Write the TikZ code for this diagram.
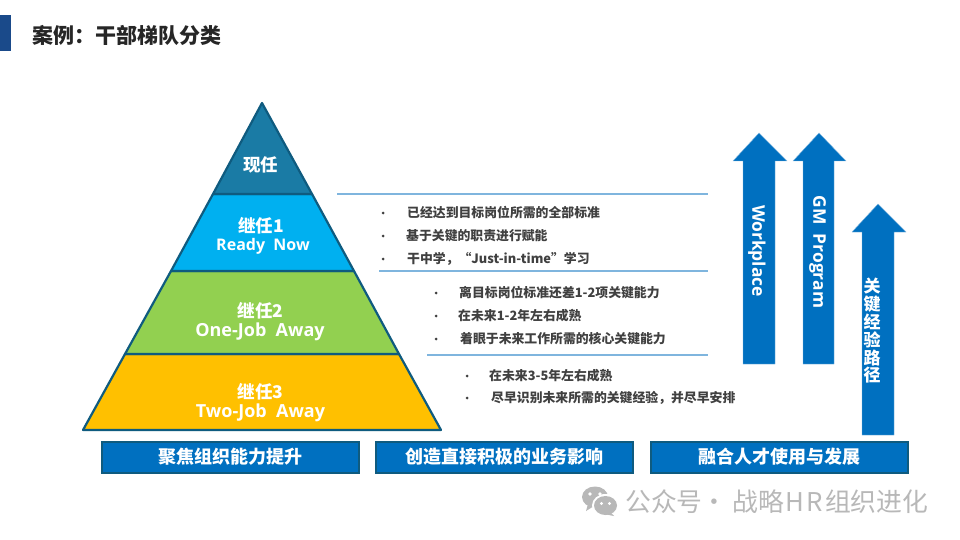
\documentclass[tikz,border=0pt]{standalone}
\usepackage{fontspec}
\setmainfont{Noto Sans CJK SC}
\newfontfamily\latinf{Open Sans}
\usetikzlibrary{positioning}
\definecolor{edgec}{HTML}{0F5B7F}
\definecolor{topc}{HTML}{1A7BA5}
\definecolor{lvla}{HTML}{00B0F0}
\definecolor{lvlb}{HTML}{92D050}
\definecolor{lvlc}{HTML}{FFC000}
\definecolor{barc}{HTML}{0070C0}
\definecolor{rulec}{HTML}{7FB5DE}
\definecolor{bodyc}{HTML}{404040}
\definecolor{markc}{HTML}{B8B8B8}
\definecolor{tabc}{HTML}{1A4A8A}
\tikzset{
  tier/.style={draw=edgec,line width=2.2pt,line join=round},
  tiertext/.style={text=white,font=\bfseries\fontsize{17.5}{19}\selectfont,align=center,inner sep=0pt},
  tierlatin/.style={text=white,inner sep=0pt,font=\latinf\bfseries\fontsize{#1}{20}\selectfont},
  barbox/.style={fill=barc,draw=edgec,line width=2pt,minimum height=31pt,text=white,
     font=\bfseries\fontsize{18}{20}\selectfont,inner sep=0pt},
  uparrow/.style={fill=barc,draw=rulec,line width=.4pt,line join=round},
  rulel/.style={draw=rulec,line width=1.4pt},
  bodytext/.style={text=bodyc,anchor=west,inner sep=0pt,font=\bfseries\fontsize{12.85}{14}\selectfont},
  dotm/.style={circle,fill=bodyc,inner sep=0pt,minimum size=3pt},
  armtext/.style={text=white,inner sep=0pt,font=\latinf\bfseries\fontsize{17.4}{19}\selectfont},
}
\begin{document}
\begin{tikzpicture}[x=1pt,y=-1pt]
\useasboundingbox (0,0) rectangle (960,540);
\fill[white] (0,0) rectangle (960,540);
% header
\fill[tabc] (0,15) rectangle (11,51);
\node[anchor=west,inner sep=0pt,text=black!85,font=\bfseries\fontsize{21}{23}\selectfont] (title) at (32,35) {案例：干部梯队分类};
% pyramid
\path[tier,fill=lvlc] (125,354) -- (399,354) -- (441,430) -- (83,430) -- cycle;
\path[tier,fill=lvlb] (171,271) -- (354,271) -- (399,354) -- (125,354) -- cycle;
\path[tier,fill=lvla] (213,194) -- (312,194) -- (354,271) -- (171,271) -- cycle;
\path[tier,fill=topc] (262,103) -- (312,194) -- (213,194) -- cycle;
\node[tiertext] (t0) at (260.5,165) {现任};
\node[tiertext] (t1) at (261,225.5) {继任1};
\node[tierlatin=16] (t1b) at (263,246) {Ready\ \ Now};
\node[tiertext] (t2) at (260.5,310.5) {继任2};
\node[tierlatin=18] (t2b) at (260,331.5) {One-Job\ \ Away};
\node[tiertext] (t3) at (260.5,391.5) {继任3};
\node[tierlatin=18] (t3b) at (260.5,412.5) {Two-Job\ \ Away};
% rules
\coordinate (r1a) at (337,194); \coordinate (r1b) at (708,194);
\coordinate (r2a) at (379,271); \coordinate (r2b) at (708,271);
\coordinate (r3a) at (427,355); \coordinate (r3b) at (708,355);
\draw[rulel] (r1a) -- (r1b);
\draw[rulel] (r2a) -- (r2b);
\draw[rulel] (r3a) -- (r3b);
% bullets
\foreach \x/\y/\n in {383/213/a,383/236/b,383/259/c,436/293/d,436/316/e,436/339/f,467/376/g,467/398/h}
  \node[dotm] (dot\n) at (\x,\y) {};
\node[bodytext] (a1) at (407,213) {已经达到目标岗位所需的全部标准};
\node[bodytext] (a2) at (406,236) {基于关键的职责进行赋能};
\node[bodytext] (a3) at (407,259) {干中学，“Just-in-time”学习};
\node[bodytext] (b1) at (459,293) {离目标岗位标准还差1-2项关键能力};
\node[bodytext] (b2) at (458,316) {在未来1-2年左右成熟};
\node[bodytext] (b3) at (460,339) {着眼于未来工作所需的核心关键能力};
\node[bodytext] (c1) at (489,376) {在未来3-5年左右成熟};
\node[bodytext] (c2) at (491,398) {尽早识别未来所需的关键经验，并尽早安排};
% bottom bars
\node[barbox,minimum width=257pt] (bar1) at (230.5,457) {聚焦组织能力提升};
\node[barbox,minimum width=257pt] (bar2) at (504.5,457) {创造直接积极的业务影响};
\node[barbox,minimum width=257pt] (bar3) at (779.5,457) {融合人才使用与发展};
% arrows
\path[uparrow] (759,133) -- (787,161) -- (775,161) -- (775,364) -- (743,364) -- (743,161) -- (733,161) -- cycle;
\path[uparrow] (819,133) -- (846,161) -- (834,161) -- (834,364) -- (803,364) -- (803,161) -- (793,161) -- cycle;
\path[uparrow] (878,204) -- (906,232) -- (894,232) -- (894,435) -- (862,435) -- (862,232) -- (852,232) -- cycle;
\node[armtext,rotate=-90] (w) at (757,251) {Workplace};
\node[armtext,rotate=-90] (g) at (817.5,252) {GM\ \ Program};
\node[armtext,align=center,font=\bfseries\fontsize{17}{17.8}\selectfont] (k) at (872,331) {关\\键\\经\\验\\路\\径};
% watermark
\fill[markc] (595,497) ellipse (13 and 10.5);
\fill[markc] (588,504) -- (586,511) -- (594,506) -- cycle;
\fill[white] (605.5,505.5) ellipse (13.5 and 11.5);
\fill[markc] (605.5,505.5) ellipse (11.5 and 9.5);
\fill[markc] (610,512) -- (614,516) -- (604,514) -- cycle;
\fill[white] (590,494) circle (1.9) (600,494) circle (1.9) (601.5,503.5) circle (1.6) (609.5,503.5) circle (1.6);
\node[anchor=west,inner sep=0pt,text=markc,font=\fontsize{25.8}{27}\selectfont] (mark) at (625,502) {公众号\hspace*{-1pt}·\hspace*{5pt}战略\hspace*{1.5pt}H\hspace*{2.5pt}R\hspace*{2pt}组织进化};
\end{tikzpicture}
\end{document}
